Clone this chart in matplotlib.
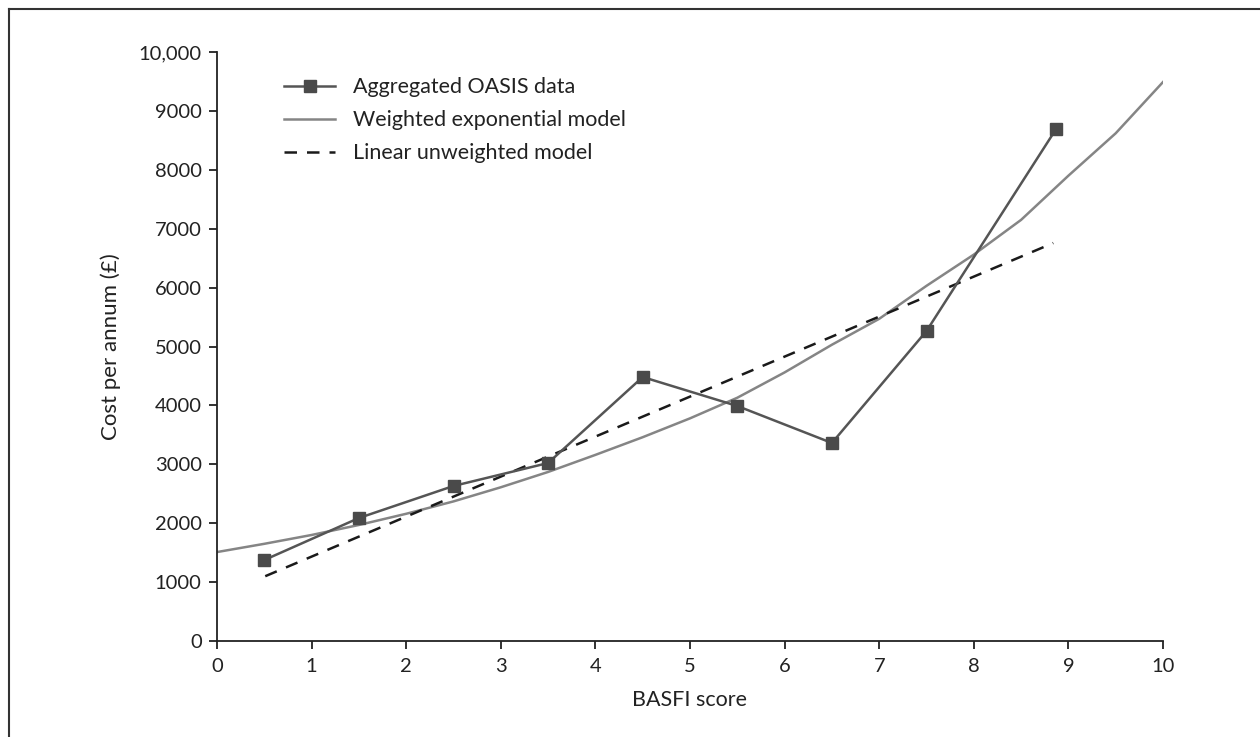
import matplotlib
matplotlib.use("Agg")
import matplotlib.pyplot as plt
from matplotlib.lines import Line2D

# ---- data ----
oasis_x = [0.5, 1.5, 2.5, 3.5, 4.5, 5.5, 6.5, 7.5, 8.87]
oasis_y = [1375, 2088, 2632, 3022, 4482, 3990, 3362, 5263, 8693]

exp_x = [0, 0.5, 1, 1.5, 2, 2.5, 3, 3.5, 4, 4.5, 5, 5.5, 6, 6.5, 7, 7.5, 8, 8.5, 9, 9.5, 10]
exp_y = [1510, 1650, 1800, 1970, 2160, 2370, 2610, 2870, 3160, 3460, 3780, 4130,
         4560, 5030, 5470, 6030, 6560, 7150, 7900, 8620, 9490]

lin_x = [0.51, 8.84]
lin_y = [1100, 6757]

xticks = list(range(0, 11))
xtick_labels = [str(v) for v in xticks]
yticks = list(range(0, 10001, 1000))
ytick_labels = ["0", "1000", "2000", "3000", "4000", "5000", "6000", "7000", "8000", "9000", "10,000"]

plt.rcParams['font.family'] = ['Lato', 'DejaVu Sans']

fig = plt.figure(figsize=(12.6, 7.37), dpi=100)
ax = fig.add_axes([217/1260, 1 - 641/737, (1163 - 217)/1260, (641 - 52)/737])

ax.plot(oasis_x, oasis_y, color='#555555', lw=1.8, marker='s', markersize=9,
        markerfacecolor='#4a4a4a', markeredgecolor='#4a4a4a', label='Aggregated OASIS data', zorder=3)
ax.plot(exp_x, exp_y, color='#858585', lw=1.8, label='Weighted exponential model', zorder=2)
ax.plot(lin_x, lin_y, color='#1a1a1a', lw=1.8, ls=(0, (5, 4)), dash_capstyle='butt',
        label='Linear unweighted model', zorder=2)

ax.set_xlim(0, 10)
ax.set_ylim(0, 10000)
ax.set_xticks(xticks)
ax.set_xticklabels(xtick_labels)
ax.set_yticks(yticks)
ax.set_yticklabels(ytick_labels)
for s in ['top', 'right']:
    ax.spines[s].set_visible(False)
for s in ['left', 'bottom']:
    ax.spines[s].set_color('#222222')
    ax.spines[s].set_linewidth(1.3)
ax.tick_params(direction='out', length=6, width=1.3, colors='#222222', labelsize=14.5, pad=6)
ax.tick_params(axis='y', pad=5)

ax.set_xlabel('BASFI score', fontsize=15.5, color='#222222', labelpad=11)
ax.set_ylabel('Cost per annum (£)', fontsize=16, color='#222222', labelpad=13)

leg = ax.legend(loc='upper left', bbox_to_anchor=(0.05, 0.99), frameon=False,
                fontsize=15.5, handlelength=2.4, handletextpad=0.8, labelspacing=0.6,
                labelcolor='#222222')

# figure border
fig.add_artist(Line2D([9/1260, 9/1260], [0, 1 - 9/737], transform=fig.transFigure, color='#333333', lw=1.5))
fig.add_artist(Line2D([9/1260, 1], [1 - 9/737, 1 - 9/737], transform=fig.transFigure, color='#333333', lw=1.5))

fig.savefig('out.png', dpi=100)
